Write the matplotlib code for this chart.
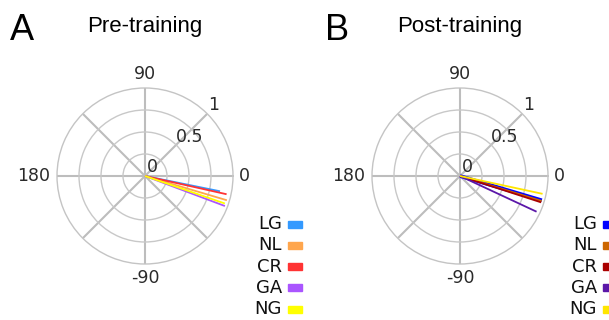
import numpy as np
import matplotlib
matplotlib.use("Agg")
import matplotlib.pyplot as plt
from matplotlib.patches import Rectangle

# series names (legend order)
groups = ["LG", "NL", "CR", "GA", "NG"]

# pre-training: vector length and angle (degrees)
pre_r = [0.87, 0.97, 0.95, 0.97, 0.96]
pre_theta = [-11.5, -16.5, -12.6, -20.6, -19.0]
pre_colors = ["#3399FF", "#FFA64D", "#FF3333", "#AA55FF", "#FFFF00"]
pre_widths = [1.3, 1.3, 1.3, 1.3, 1.3]

# post-training
post_r = [0.97, 0.97, 0.97, 0.96, 0.96]
post_theta = [-16.5, -17.0, -18.0, -25.0, -12.2]
post_colors = ["#0000FF", "#CC6600", "#AA0000", "#5B17A8", "#FFE600"]
post_widths = [2.6, 1.3, 1.3, 1.3, 1.3]

angle_ticks = [0, 90, 180, -90]
angle_labels = ["0", "90", "180", "-90"]
radial_labels = ["0", "0.5", "1"]

W, H = 609, 320
fig = plt.figure(figsize=(W / 100, H / 100), dpi=100)

tick_font = dict(family="DejaVu Sans", fontsize=12.5, color="#2a2a2a")


def draw_panel(cx, letter, title, r_vals, th_vals, colors, widths):
    R = 88
    ax = fig.add_axes([(cx - R) / W, (H - 176 - R) / H, 2 * R / W, 2 * R / H],
                      projection="polar")
    ax.set_ylim(0, 1)
    ax.set_yticks([0.25, 0.5, 0.75])
    ax.set_yticklabels([])
    ax.set_xticks(np.deg2rad(np.arange(0, 360, 45)))
    ax.set_xticklabels([])
    ax.yaxis.grid(True, color="#c8c8c8", lw=1.0)
    ax.xaxis.grid(True, color="#bdbdbd", lw=1.5)
    ax.spines["polar"].set_color("#c4c4c4")
    ax.spines["polar"].set_linewidth(1.0)
    ax.tick_params(length=0)

    for r, th, c, lw in zip(r_vals, th_vals, colors, widths):
        ax.plot([0, np.deg2rad(th)], [0, r], color=c, lw=lw, solid_capstyle="butt")

    # angular labels
    label_r = {0: 1.125, 90: 1.16, 180: 1.27, -90: 1.16}
    for a, s in zip(angle_ticks, angle_labels):
        ax.text(np.deg2rad(a), label_r[a], s, ha="center", va="center",
                clip_on=False, **tick_font)
    # radial labels
    for (rr, aa), s in zip([(0.129, 50), (0.673, 41.6), (1.12, 46.1)], radial_labels):
        ax.text(np.deg2rad(aa), rr, s, ha="center", va="center",
                clip_on=False, **tick_font)

    fig.text((cx - 135) / W, 1 - 40 / H, letter, fontsize=26,
             family="Liberation Sans", va="baseline", ha="left")
    fig.text(cx / W, 1 - 32 / H, title, fontsize=16,
             family="Liberation Sans", va="baseline", ha="center")

    # legend
    for i, (g, c) in enumerate(zip(groups, colors)):
        y = 224 + i * 21.25
        fig.text((cx + 137) / W, 1 - y / H, g, ha="right", va="center",
                 family="DejaVu Sans", fontsize=13, color="#111111")
        fig.add_artist(Rectangle(((cx + 143) / W, 1 - (y + 3.5) / H),
                                 14 / W, 7 / H, color=c,
                                 transform=fig.transFigure))


draw_panel(145, "A", "Pre-training", pre_r, pre_theta, pre_colors, pre_widths)
draw_panel(460, "B", "Post-training", post_r, post_theta, post_colors, post_widths)

fig.savefig("out.png", dpi=100)
